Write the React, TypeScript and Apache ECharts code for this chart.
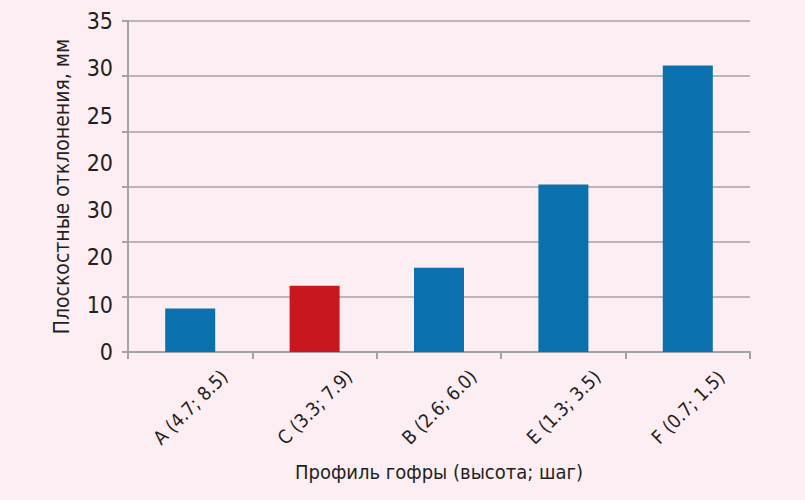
import React, { useEffect, useRef } from "react";
import * as echarts from "echarts";

const categories = ["A (4.7; 8.5)", "C (3.3; 7.9)", "B (2.6; 6.0)", "E (1.3; 3.5)", "F (0.7; 1.5)"];
const values = [4.6, 7.0, 8.9, 17.7, 30.3];
const barColors = ["#0a70ae", "#c8171e", "#0a70ae", "#0a70ae", "#0a70ae"];
const yTickLabels = ["0", "10", "20", "30", "20", "25", "30", "35"];
const yTitle = "Плоскостные отклонения, мм";
const xTitle = "Профиль гофры (высота; шаг)";

const FONT = "'Liberation Sans Narrow', 'DejaVu Sans Condensed', sans-serif";
const TEXT = "#231f20";
const GRAY = "#a3a3a3";

export default function App() {
  const ref = useRef<HTMLDivElement>(null);
  useEffect(() => {
    document.body.style.margin = "0";
    const chart = echarts.init(ref.current!, null, { renderer: "svg" });
    chart.setOption({
      animation: false,
      backgroundColor: "#fdeef4",
      grid: { left: 128, right: 55, top: 21, bottom: 148 },
      xAxis: {
        type: "category",
        data: categories,
        name: xTitle,
        nameLocation: "middle",
        nameGap: 110,
        nameTextStyle: { fontFamily: FONT, fontSize: 20, color: TEXT },
        axisLine: { show: true, lineStyle: { color: GRAY, width: 2 } },
        axisTick: { show: true, length: 7, lineStyle: { color: GRAY, width: 2 } },
        axisLabel: {
          rotate: 45,
          align: "center",
          verticalAlign: "middle",
          margin: 55,
          fontFamily: FONT,
          fontSize: 19,
          color: TEXT,
        },
      },
      yAxis: [
        {
          type: "value",
          min: 0,
          max: 6,
          interval: 1,
          position: "left",
          axisLine: { show: true, lineStyle: { color: GRAY, width: 2 } },
          axisTick: { show: true, length: 6, lineStyle: { color: GRAY, width: 2 } },
          axisLabel: { show: false },
          splitLine: { show: true, lineStyle: { color: GRAY, width: 1.5 } },
          name: yTitle,
          nameLocation: "middle",
          nameGap: 56,
          nameTextStyle: { fontFamily: FONT, fontSize: 21, color: TEXT },
        },
        {
          type: "value",
          min: 0,
          max: 35,
          interval: 5,
          position: "left",
          axisLine: { show: false },
          axisTick: { show: false },
          splitLine: { show: false },
          axisLabel: {
            margin: 15,
            fontFamily: FONT,
            fontSize: 23,
            color: TEXT,
            formatter: (v: number) => yTickLabels[Math.round(v / 5)] ?? "",
          },
        },
      ],
      series: [
        {
          type: "bar",
          yAxisIndex: 1,
          barWidth: 50,
          data: values.map((v, i) => ({ value: v, itemStyle: { color: barColors[i] } })),
        },
      ],
    });
    return () => chart.dispose();
  }, []);
  return <div ref={ref} style={{ width: 805, height: 500 }} />;
}
